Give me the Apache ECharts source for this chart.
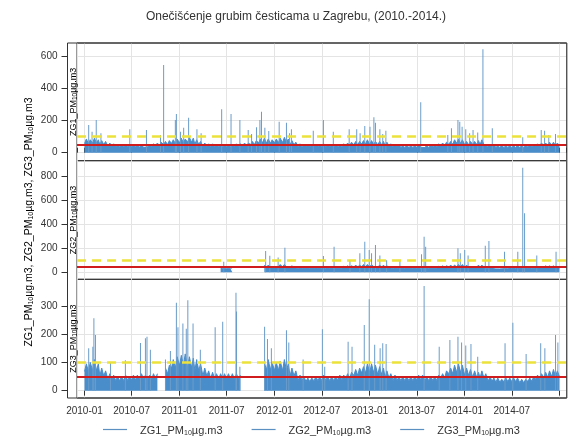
<!DOCTYPE html>
<html><head><meta charset="utf-8">
<script src="https://cdn.jsdelivr.net/npm/echarts@6/dist/echarts.min.js"></script>
<style>html,body{margin:0;padding:0;background:#fff}#c{width:572px;height:436px}</style>
</head><body><div id="c"></div>
<script>
const titleText = 'Onečišćenje grubim česticama u Zagrebu, (2010.-2014.)';
const seriesNames = ['ZG1_PM10µg.m3', 'ZG2_PM10µg.m3', 'ZG3_PM10µg.m3'];
const years = [2010, 2011, 2012, 2013, 2014];
const halfMonthDays = [8, 23];
const coreDays = [1, 16];
const lastDay = '2014-12-31';
const lastLabelYear = 2014;
const limitValue = 50;
const thresholdValue = 100;
const yTicks = [[0, 200, 400, 600], [0, 200, 400, 600, 800], [0, 100, 200, 300]];
const yRanges = [[-49.5, 679], [-58, 926], [-26, 394]];
const xRange = ['2009-12-05', '2015-01-26'];

// upper level of the dense band, two values per month (null = no data)
const zg1Band = [
  85,80, 90,80, 75,70, 60,55, 50,50, 50,50, 50,50, 50,45, 50,55, 60,65, 70,75, 80,85,
  90,85, 95,90, 80,70, 60,55, 55,50, 50,50, 50,50, 55,55, 60,60, 70,75, 85,90, 85,80,
  85,90, 95,85, 75,65, 55,50, 50,50, 50,50, 55,50, 50,50, 50,55, 60,65, 70,70, 75,80,
  75,70, 70,70, 65,55, 50,50, 45,45, 45,45, 50,45, 45,45, 50,55, 60,65, 70,80, 85,80,
  70,70, 70,75, 80,60, 50,50, 45,45, 45,45, 45,45, 45,45, 50,50, 55,60, 60,65, 65,60
];
const zg2Band = [
  null,null, null,null, null,null, null,null, null,null, null,null, null,null, null,null, null,null, null,null, null,null, null,null,
  null,null, null,null, null,null, null,null, null,null, 40,45, 45,40, null,null, null,null, null,null, null,60, 60,55,
  60,65, 65,60, 55,50, 45,45, 45,45, 45,45, 45,45, 45,45, 45,50, 55,55, 60,60, 65,65,
  65,60, 60,60, 55,50, 45,45, 45,45, 45,45, 45,45, 45,45, 45,50, 55,55, 60,60, 65,65,
  60,55, 55,60, 60,50, 45,45, 40,40, 40,45, 45,45, 45,45, 45,45, 50,50, 55,55, 55,50
];
const zg3Band = [
  95,100, 110,95, 80,70, 60,55, 50,50, 55,50, 55,55, 60,55, 55,60, 60,null, 80,90, 110,120,
  125,130, 120,115, 110,95, 80,70, 65,60, 60,60, 60,60, 60,55, null,null, null,null, null,100, 110,100,
  100,105, 110,95, 80,70, 55,50, 45,45, 50,50, 55,50, 50,50, 55,55, 60,65, 75,80, 85,95,
  95,90, 85,80, 70,60, 55,50, 50,50, 50,50, 55,55, 50,50, 50,55, 60,70, 80,90, 95,90,
  80,75, 70,65, 70,60, 50,45, 45,40, 45,45, 45,45, 40,40, 45,50, 55,60, 65,70, 75,70
];
// solid core level of the band, one value per month
const zg1Core = [
  57,60,50,40,35,35,35,33,37,44,50,57,
  61,65,52,40,37,35,35,38,42,50,61,58,
  61,63,49,37,35,35,37,35,37,44,49,54,
  50,49,42,35,32,32,33,32,37,44,52,58,
  49,51,49,35,32,32,32,32,35,40,44,44
];
const zg2Core = [
  null,null,null,null,null,null,null,null,null,null,null,null,
  null,null,null,null,null,30,30,null,null,null,42,40,
  44,44,37,32,32,32,32,32,33,38,42,45,
  44,42,37,32,32,32,32,32,33,38,42,45,
  40,40,38,32,28,30,32,32,32,35,38,37
];
const zg3Core = [
  68,71,52,40,35,36,38,40,40,42,60,80,
  89,82,71,52,43,42,42,40,null,null,70,73,
  71,71,52,36,32,35,36,35,38,43,54,63,
  64,57,45,36,35,35,38,35,36,45,60,64,
  54,47,45,33,30,32,32,28,33,40,47,50
];

// individual high days
const zg1Peaks = [
  ['2010-01-17',171],['2010-01-30',130],['2010-02-15',202],['2010-03-05',120],['2010-06-24',145],
  ['2010-08-27',140],['2010-10-20',110],['2010-11-01',543],['2010-12-16',202],['2010-12-20',240],
  ['2011-01-05',130],['2011-01-17',155],['2011-02-05',217],['2011-03-09',145],['2011-03-25',120],
  ['2011-06-12',269],['2011-07-18',240],['2011-08-21',202],['2011-09-22',140],['2011-10-05',115],
  ['2011-10-24',157],['2011-11-06',202],['2011-11-12',254],['2011-11-25',155],['2011-12-10',135],
  ['2012-01-19',192],['2012-02-16',186],['2012-02-28',120],['2012-03-06',145],['2012-05-29',136],
  ['2012-07-07',202],['2012-08-14',130],['2012-10-14',145],['2012-11-12',145],['2012-11-25',120],
  ['2012-12-13',165],['2013-01-02',160],['2013-01-17',219],['2013-01-23',186],['2013-02-09',145],
  ['2013-02-20',115],['2013-03-04',136],['2013-07-16',312],['2013-10-28',110],['2013-11-11',151],
  ['2013-12-06',202],['2013-12-13',192],['2013-12-22',160],['2014-01-05',145],['2014-01-20',120],
  ['2014-02-02',140],['2014-02-20',125],['2014-03-12',640],['2014-04-17',151],['2014-08-12',95],
  ['2014-10-22',140],['2014-11-04',136],['2014-11-20',110],['2014-12-16',116]
];
const zg2Peaks = [
  ['2011-06-20',88],['2011-11-28',177],['2011-12-14',138],['2012-01-15',122],['2012-02-10',204],
  ['2012-07-07',135],['2012-08-17',213],['2012-10-17',100],['2012-11-24',158],['2012-12-13',254],
  ['2012-12-30',185],['2013-01-08',158],['2013-01-23',227],['2013-02-09',140],['2013-03-07',100],
  ['2013-04-27',100],['2013-07-19',149],['2013-07-29',296],['2013-08-04',213],['2013-12-06',199],
  ['2013-12-15',158],['2014-01-01',185],['2014-01-14',140],['2014-03-21',221],['2014-04-04',260],
  ['2014-06-03',170],['2014-07-24',170],['2014-08-12',868],['2014-08-19',490],['2014-10-05',140],
  ['2014-12-18',171]
];
const zg3Peaks = [
  ['2010-01-17',150],['2010-02-02',155],['2010-02-06',256],['2010-02-12',197],['2010-04-11',100],
  ['2010-06-07',108],['2010-08-04',169],['2010-08-23',185],['2010-08-29',191],['2010-09-11',145],
  ['2010-11-08',110],['2010-11-27',140],['2010-12-20',311],['2010-12-26',224],['2011-01-14',238],
  ['2011-01-27',219],['2011-02-02',320],['2011-02-22',238],['2011-03-22',145],['2011-05-18',224],
  ['2011-06-16',244],['2011-08-06',346],['2011-08-08',280],['2011-08-21',85],['2011-11-24',226],
  ['2011-12-05',183],['2011-12-20',150],['2012-02-16',214],['2012-02-25',170],['2012-04-20',110],
  ['2012-07-03',217],['2012-07-12',85],['2012-10-10',173],['2012-10-25',155],['2012-12-11',232],
  ['2012-12-30',323],['2013-01-20',162],['2013-02-10',150],['2013-02-20',168],['2013-03-05',165],
  ['2013-07-29',370],['2013-09-25',155],['2013-11-05',179],['2013-12-06',191],['2013-12-20',170],
  ['2014-01-05',160],['2014-01-25',165],['2014-02-20',120],['2014-06-05',168],['2014-07-05',240],
  ['2014-08-25',130],['2014-10-20',168],['2014-11-05',150],['2014-12-16',197],['2014-12-25',170]
];

const bands = [zg1Band, zg2Band, zg3Band];
const cores = [zg1Core, zg2Core, zg3Core];
const peaks = [zg1Peaks, zg2Peaks, zg3Peaks];

const pad2 = n => String(n).padStart(2, '0');
const periods = [], corePeriods = [];
years.forEach(y => { for (let m = 1; m <= 12; m++) for (let h = 0; h < 2; h++) {
  periods.push(y + '-' + pad2(m) + '-' + pad2(halfMonthDays[h]));
  corePeriods.push(y + '-' + pad2(m) + '-' + pad2(coreDays[h]));
} });

// band polyline: alternates the core level and the band top
function bandData(band, core) {
  const pts = [];
  periods.forEach((p, k) => {
    const prev = k > 0 ? band[k - 1] : band[k];
    const c = core[Math.floor(k / 2)];
    pts.push([corePeriods[k], (band[k] == null || prev == null) ? null : c]);
    pts.push([p, band[k]]);
  });
  pts.push([lastDay, core[core.length - 1]]);
  return pts;
}

const FONT = '"Liberation Sans", Arial, sans-serif';
const BLUE = '#4a8dcb';
const SPIKE = '#6a9cc9';
const LEG = '#5b90c2';
const TXT = '#333';
const GRIDC = '#e4e4e4';
const panels = [{ top: 43, height: 117.7 }, { top: 160.7, height: 118.6 }, { top: 279.3, height: 118.7 }];
const subRich = (fs, sfs) => ({
  a: { fontSize: fs, fontFamily: FONT, color: TXT, lineHeight: fs + 3, verticalAlign: 'bottom' },
  s: { fontSize: sfs, fontFamily: FONT, color: TXT, lineHeight: sfs + 1, verticalAlign: 'bottom' }
});
const richName = n => '{a|' + n.slice(0, 6) + '}{s|' + n.slice(6, 8) + '}{a|' + n.slice(8) + '}';

const chart = echarts.init(document.getElementById('c'), null, { renderer: 'canvas' });
const HALFYEAR = 365 / 2 * 86400000;
const fmtDate = v => {
  const d = new Date(v);
  if (d.getDate() !== 1 || (d.getMonth() !== 0 && d.getMonth() !== 6) || d.getFullYear() > lastLabelYear) return '';
  return d.getFullYear() + '-' + pad2(d.getMonth() + 1);
};

const option = {
  animation: false,
  backgroundColor: '#fff',
  textStyle: { fontFamily: FONT },
  grid: panels.map(p => ({ left: 77, right: 5.3, top: p.top, height: p.height, show: true, borderColor: '#333', borderWidth: 1, backgroundColor: 'transparent' })),
  xAxis: panels.map((p, i) => ({
    type: 'time', gridIndex: i, min: xRange[0], max: xRange[1],
    minInterval: HALFYEAR, maxInterval: HALFYEAR,
    position: i === 0 ? 'top' : 'bottom',
    axisLine: { show: false },
    axisTick: { show: i !== 1, length: 5, inside: false, lineStyle: { color: '#333' } },
    axisLabel: { show: i === 2, formatter: fmtDate, fontSize: 10, color: TXT, margin: 8, fontFamily: FONT, hideOverlap: false },
    splitLine: { show: true, lineStyle: { color: GRIDC, width: 1 } }
  })),
  yAxis: panels.map((p, i) => ({
    type: 'value', gridIndex: i, min: yRanges[i][0], max: yRanges[i][1], splitNumber: i === 1 ? 5 : 4,
    offset: 9.5,
    axisLine: { show: false },
    axisTick: { show: true, length: 6, customValues: yTicks[i], lineStyle: { color: '#333' } },
    axisLabel: { customValues: yTicks[i], fontSize: 10, color: TXT, margin: 10, fontFamily: FONT },
    splitLine: { show: true, lineStyle: { color: GRIDC, width: 1 } }
  })),
  legend: {
    data: seriesNames.map(n => ({ name: n, icon: 'path://M0,0 L24,0 L24,1.2 L0,1.2 Z', itemStyle: { color: LEG, borderWidth: 0, opacity: 1 } })),
    left: 103, top: 424, padding: 0, itemWidth: 24, itemHeight: 1.2, itemGap: 29,
    formatter: n => '{p|}' + richName(n),
    textStyle: { rich: {
      p: { width: 8, fontSize: 11, lineHeight: 14 },
      a: { fontSize: 11, fontFamily: FONT, color: TXT, lineHeight: 14, verticalAlign: 'bottom' },
      s: { fontSize: 7, fontFamily: FONT, color: TXT, lineHeight: 8, verticalAlign: 'bottom' } } }
  },
  series: [],
  graphic: []
};

panels.forEach((p, i) => {
  option.series.push({
    name: seriesNames[i], type: 'line', xAxisIndex: i, yAxisIndex: i,
    data: bandData(bands[i], cores[i]),
    showSymbol: false, symbol: 'none', connectNulls: false, color: BLUE,
    lineStyle: { color: BLUE, width: 1 },
    areaStyle: { color: BLUE, opacity: 1 },
    z: 2
  });
  option.series.push({
    name: seriesNames[i] + ' peaks', type: 'bar', xAxisIndex: i, yAxisIndex: i,
    data: peaks[i], barWidth: 1, itemStyle: { color: SPIKE }, z: 3,
    markLine: {
      symbol: 'none', silent: true, label: { show: false }, animation: false,
      data: [
        { yAxis: thresholdValue, lineStyle: { color: '#ece23c', width: 2.5, type: [9, 6] } },
        { yAxis: limitValue, lineStyle: { color: '#d01c1c', width: 2, type: 'solid' } }
      ]
    }
  });
  option.graphic.push({
    type: 'text', x: 72.5, y: p.top + p.height / 2, rotation: Math.PI / 2, z: 10,
    style: { text: richName(seriesNames[i]), align: 'center', verticalAlign: 'middle', rich: subRich(9, 6.5) }
  });
});

option.graphic.push({ type: 'rect', shape: { x: 67.5, y: 43, width: 499.2, height: 355 }, style: { fill: 'none', stroke: '#333', lineWidth: 1 }, z: 10 });
option.graphic.push({
  type: 'text', x: 28, y: 222, rotation: Math.PI / 2, z: 10,
  style: { text: seriesNames.map(richName).join('{a|, }'), align: 'center', verticalAlign: 'middle', rich: subRich(10.5, 7) }
});
option.graphic.push({
  type: 'text', x: 296, y: 17, z: 10,
  style: { text: titleText, align: 'center', verticalAlign: 'middle', fontSize: 12, fontFamily: FONT, fill: TXT }
});

chart.setOption(option);
</script></body></html>
